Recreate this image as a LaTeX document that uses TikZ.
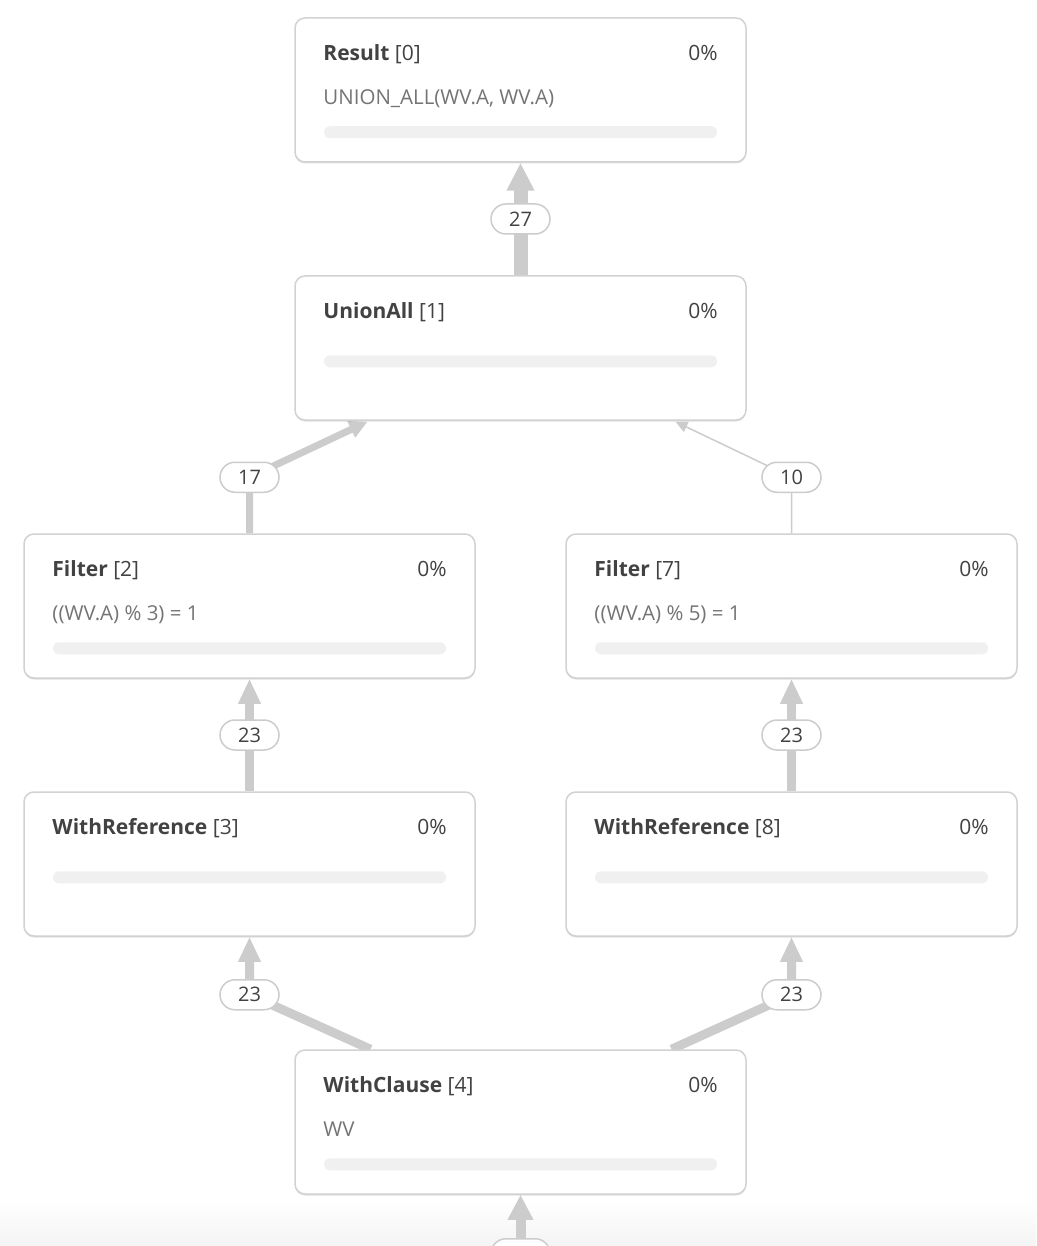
\documentclass[tikz,border=0pt]{standalone}
\usepackage{fontspec}
\setmainfont{Open Sans}
\usetikzlibrary{arrows.meta,calc,shadows}
\pgfdeclarelayer{back}
\pgfdeclarelayer{bg}
\pgfsetlayers{back,bg,main}
\definecolor{edgec}{HTML}{CCCCCC}
\definecolor{boxc}{HTML}{D2D2D2}
\definecolor{barc}{HTML}{F0F0F0}
\definecolor{txt}{HTML}{424242}
\definecolor{subtxt}{HTML}{747474}
\definecolor{fadec}{HTML}{F4F4F4}
\tikzset{
  opnode/.style={draw=boxc, line width=1.5pt, fill=white, rounded corners=10pt,
    minimum width=451pt, minimum height=144pt, inner sep=0pt,
    drop shadow={shadow xshift=0pt, shadow yshift=-1.5pt, opacity=0.12, fill=black}},
  ttl/.style={inner sep=0pt, text=txt, font=\fontsize{21}{25}\selectfont},
  sub/.style={inner sep=0pt, text=subtxt, font=\fontsize{20.5}{24}\selectfont},
  bar/.style={fill=barc, rounded corners=6pt, minimum width=393pt, minimum height=12pt, inner sep=0pt},
  pill/.style={draw=edgec, line width=1.5pt, fill=white, rounded corners=15pt,
    minimum width=59pt, minimum height=30pt, inner sep=0pt, text=txt,
    font=\fontsize{20}{24}\selectfont},
  edge/.style={draw=edgec, line cap=butt, line join=miter},
}
\newcommand\opbox[7]{%
  \node[opnode] (#1) at (#2,#3) {};
  \node[ttl, anchor=base west] (#1t) at ($(#1.north west)+(29,43)$) {\textbf{#4} [#5]};
  \node[ttl, anchor=base east] (#1p) at ($(#1.north east)+(-29,43)$) {0\%};
  \if\relax\detokenize{#6}\relax\else
  \node[sub, anchor=base west] (#1s) at ($(#1.north west)+(29,87)$) {#6};\fi
  \node[bar] (#1b) at ($(#1.north)+(0,#7)$) {};
}
\begin{document}
\begin{tikzpicture}[x=1pt,y=-1pt]
\useasboundingbox (0,0) rectangle (1036,1246);
\clip (0,0) rectangle (1036,1246);
\begin{pgfonlayer}{back}
\fill[white] (0,0) rectangle (1036,1246);
\shade[top color=white, bottom color=fadec] (0,1200) rectangle (1036,1246);
\end{pgfonlayer}

\opbox{n0}{520.5}{90}{Result}{0}{UNION\_ALL(WV.A, WV.A)}{115}
\opbox{n1}{520.5}{348}{UnionAll}{1}{}{86}
\opbox{n2}{249.5}{606}{Filter}{2}{((WV.A) \% 3) = 1}{115}
\opbox{n7}{791.5}{606}{Filter}{7}{((WV.A) \% 5) = 1}{115}
\opbox{n3}{249.5}{864}{WithReference}{3}{}{86}
\opbox{n8}{791.5}{864}{WithReference}{8}{}{86}
\opbox{n4}{520.5}{1122}{WithClause}{4}{WV}{115}

% connector helper coordinates
\coordinate (c27) at ($(n1.north)!0.5!(n0.south)$);
\coordinate (c17) at ($(n2.north)+(0,-56)$);
\coordinate (t17) at ($(n1.south)+(-153,1)$);
\coordinate (c10) at ($(n7.north)+(0,-56)$);
\coordinate (t10) at ($(n1.south)+(155,1)$);
\coordinate (c23a) at ($(n3.north)!0.5!(n2.south)$);
\coordinate (c23b) at ($(n8.north)!0.5!(n7.south)$);
\coordinate (c34) at ($(n3.south)+(0,58)$);
\coordinate (s34) at ($(n4.north)+(-150,0)$);
\coordinate (c84) at ($(n8.south)+(0,58)$);
\coordinate (s84) at ($(n4.north)+(151,0)$);
\coordinate (cb) at ($(n4.south)+(0,59)$);

\begin{pgfonlayer}{bg}
\draw[edge, line width=14pt, -{Triangle[length=28pt,width=26pt]}] (n1.north) -- (n0.south);
\draw[edge, line width=7pt, -{Triangle[length=18pt,width=17pt]}] (n2.north) -- (c17) -- (t17);
\draw[edge, line width=1.5pt, -{Triangle[length=12pt,width=11pt]}] (n7.north) -- (c10) -- (t10);
\draw[edge, line width=9pt, -{Triangle[length=25pt,width=21pt]}] (n3.north) -- (n2.south);
\draw[edge, line width=9pt, -{Triangle[length=25pt,width=21pt]}] (n8.north) -- (n7.south);
\draw[edge, line width=9pt, -{Triangle[length=25pt,width=21pt]}] (s34) -- (c34) -- (n3.south);
\draw[edge, line width=9pt, -{Triangle[length=25pt,width=21pt]}] (s84) -- (c84) -- (n8.south);
\draw[edge, line width=10pt, -{Triangle[length=25pt,width=24pt]}] (cb) -- (n4.south);
\end{pgfonlayer}

\node[pill] (l27) at (c27) {27};
\node[pill] (l17) at (c17) {17};
\node[pill] (l10) at (c10) {10};
\node[pill] (l23a) at (c23a) {23};
\node[pill] (l23b) at (c23b) {23};
\node[pill] (l34) at (c34) {23};
\node[pill] (l84) at (c84) {23};
\node[pill] (lb) at (cb) {};
\end{tikzpicture}
\end{document}
